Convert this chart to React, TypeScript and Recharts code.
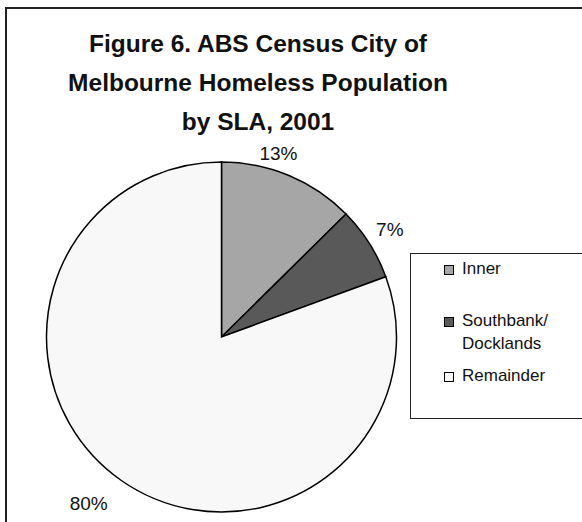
import { PieChart, Pie, Cell, Legend } from 'recharts'

const SLA_NAMES = ['Inner', 'Southbank/ Docklands', 'Remainder']
const SHARE = [12.6, 6.8, 80.6]
const SHARE_LABELS = ['13%', '7%', '80%']
const TITLE_LINES = ['Figure 6. ABS Census City of', 'Melbourne Homeless Population', 'by SLA, 2001']

const FILLS = ['#a6a6a6', '#595959', '#f8f8f8']
const FONT = '"Liberation Sans", Arial, sans-serif'
// small nudges so labels sit where Excel's best-fit put them
const LABEL_NUDGE_X = [-19, 2, -20]
const LABEL_NUDGE_Y = [-2, -2, 5]

const data = SLA_NAMES.map((name, i) => ({ name, value: SHARE[i] }))

const RAD = Math.PI / 180

const renderLabel = (props: any) => {
  const { cx, cy, midAngle, outerRadius, index } = props
  const r = outerRadius + 22
  const x = cx + r * Math.cos(-midAngle * RAD) + LABEL_NUDGE_X[index]
  const y = cy + r * Math.sin(-midAngle * RAD) + LABEL_NUDGE_Y[index]
  return (
    <text x={x} y={y} textAnchor="middle" dominantBaseline="central" fill="#111" fontSize={19} fontFamily={FONT}>
      {SHARE_LABELS[index]}
    </text>
  )
}

const renderLegend = (props: any) => {
  const payload = [...(props.payload || [])].sort(
    (a: any, b: any) => SLA_NAMES.indexOf(a.value) - SLA_NAMES.indexOf(b.value)
  )
  const gaps = [29, 9, 0]
  return (
    <div style={{ width: 200, height: 166, border: '1px solid #222', boxSizing: 'border-box', paddingTop: 3, fontFamily: FONT, fontSize: 17, color: '#111' }}>
      {payload.map((entry: any, i: number) => (
        <div key={entry.value} style={{ display: 'flex', alignItems: 'flex-start', marginLeft: 33, marginBottom: gaps[i], lineHeight: '23px' }}>
          <span style={{ width: 8, height: 8, marginTop: 8, marginRight: 8, border: '1px solid #000', background: entry.color, flexShrink: 0 }} />
          <span style={{ width: 100 }}>{entry.value}</span>
        </div>
      ))}
    </div>
  )
}

export default function App() {
  return (
    <div style={{ position: 'fixed', left: 0, top: 0, width: 582, height: 522, overflow: 'hidden', background: '#fff' }}>
      <div style={{ position: 'absolute', left: 5, top: 7, width: 600, height: 540, borderTop: '2px solid #222', borderLeft: '2px solid #222' }} />
      <div style={{ position: 'absolute', left: 0, top: 24, width: 516, textAlign: 'center', fontFamily: FONT, fontWeight: 'bold', fontSize: 24.5, lineHeight: '39px', color: '#111' }}>
        {TITLE_LINES.map((line) => (
          <div key={line}>{line}</div>
        ))}
      </div>
      <PieChart width={582} height={522} margin={{ top: 0, right: 0, bottom: 0, left: 0 }} style={{ position: 'absolute', left: 0, top: 0 }}>
        <Pie
          data={data}
          dataKey="value"
          nameKey="name"
          cx={221.5}
          cy={337}
          outerRadius={175}
          startAngle={90}
          endAngle={-270}
          stroke="#000"
          strokeWidth={1.5}
          label={renderLabel}
          labelLine={false}
          isAnimationActive={false}
        >
          {data.map((d, i) => (
            <Cell key={d.name} fill={FILLS[i]} />
          ))}
        </Pie>
        <Legend content={renderLegend} wrapperStyle={{ position: 'absolute', left: 410, top: 253, width: 200, height: 166 }} />
      </PieChart>
    </div>
  )
}
